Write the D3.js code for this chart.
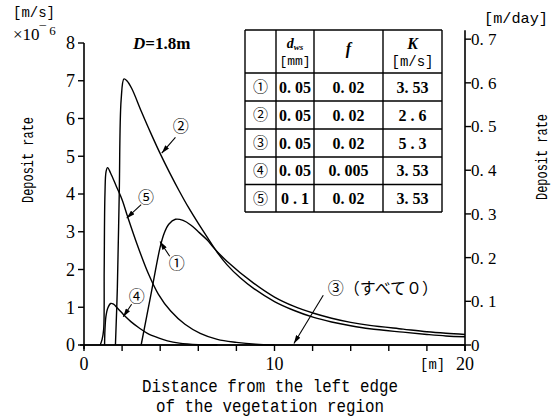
<!DOCTYPE html>
<meta charset="utf-8">
<head>
  <script src="https://d3js.org/d3.v7.min.js"></script>
</head>
<style>
body { margin: 0; background: #fff; }
.mono { font-family: "Liberation Mono", monospace; }
.serif { font-family: "Liberation Serif", serif; }
.jp { font-family: "Noto Sans CJK JP", sans-serif; }
.curve { fill: none; stroke: #000; stroke-width: 1.4; }
.axis-line { stroke: #000; stroke-width: 1.6; fill: none; }
.tbl { stroke: #000; stroke-width: 1.4; fill: none; }
</style>
<body>
<svg width="551" height="417" id="container"></svg>
<script>

// distance [m], deposit rate [x1e-6 m/s]
var curve1 = [[3.0,0],[3.5,1.3],[4.0,2.6],[4.2,2.95],[4.45,3.2],[4.8,3.33],[5.2,3.3],[5.6,3.18],[6.0,3.0],[6.47,2.78],[6.8,2.58],[7.5,2.22],[8.9,1.64],[10,1.27],[11,1.03],[12.06,0.84],[13,0.71],[14,0.6],[15,0.52],[16.75,0.42],[18,0.35],[19,0.31],[20,0.28]];
var curve2 = [[1.65,0],[1.75,1.5],[1.85,4],[1.95,6.5],[2.1,7.05],[2.25,7.0],[2.5,6.8],[3.0,6.2],[3.5,5.62],[4.0,5.07],[4.5,4.56],[5.0,4.08],[5.5,3.63],[6.0,3.22],[6.5,2.83],[7.0,2.45],[7.5,2.13],[8.2,1.78],[8.9,1.5],[10,1.15],[11,0.92],[12.06,0.73],[13,0.61],[14,0.51],[15,0.43],[16.75,0.34],[18,0.28],[19,0.24],[20,0.22]];
var curve3 = [[0,0],[20,0]];
var curve4 = [[1.08,0],[1.1,0.4],[1.15,0.75],[1.25,0.98],[1.4,1.1],[1.55,1.08],[1.75,0.98],[1.94,0.88],[2.2,0.74],[2.46,0.62],[2.9,0.45],[3.33,0.31],[3.9,0.19],[4.38,0.11],[5.0,0.05],[6.0,0.01],[7.0,0]];
var curve5 = [[0.85,0],[0.95,0.15],[1.03,0.4],[1.06,2],[1.1,4],[1.16,4.6],[1.24,4.7],[1.4,4.55],[1.7,4.2],[2.0,3.85],[2.29,3.4],[2.8,2.65],[3.37,1.9],[3.9,1.35],[4.55,0.9],[5.3,0.55],[6.1,0.31],[7.0,0.15],[8.0,0.07],[9.0,0.02],[10,0]];

var xTicks = [0, 10, 20];
var xMinorTicks = [0, 2, 4, 6, 8, 10, 12, 14, 16, 18, 20];
var yTicks = [0, 1, 2, 3, 4, 5, 6, 7, 8];
var y2Ticks = [0, 0.1, 0.2, 0.3, 0.4, 0.5, 0.6, 0.7];

// table
var caseLabels = ['①', '②', '③', '④', '⑤'];
var dwsValues = ['0. 05', '0. 05', '0. 05', '0. 05', '0 . 1'];
var fValues = ['0. 02', '0. 02', '0. 02', '0. 005', '0. 02'];
var kValues = ['3. 53', '2 . 6', '5 . 3', '3. 53', '3. 53'];

// annotations: label position, arrow start, arrow end (data units)
var notes = [
  {text: '②', at: [5.08, 5.78], from: [4.8, 5.5], to: [4.08, 5.08]},
  {text: '⑤', at: [3.25, 3.92], from: [3.0, 3.72], to: [2.24, 3.36]},
  {text: '①', at: [4.87, 2.16], from: [4.5, 2.35], to: [3.99, 2.74]},
  {text: '④', at: [2.77, 1.28], from: [2.5, 1.08], to: [2.06, 0.75]},
  {text: '③（すべて０）', at: [12.8, 1.5], from: [12.56, 1.32], to: [11.02, 0.04]}
];

var svg = d3.select('#container');

var xScale = d3.scaleLinear().domain([0, 20]).range([84, 465]),
    yScale = d3.scaleLinear().domain([0, 8]).range([345, 43]),
    // 1e-6 m/s = 0.0864 m/day
    y2Scale = d3.scaleLinear().domain([0, 8 * 0.0864]).range([345, 43]);

svg.append('defs').append('marker')
   .attr('id', 'arrow')
   .attr('viewBox', '0 0 10 6')
   .attr('refX', 10).attr('refY', 3)
   .attr('markerWidth', 9).attr('markerHeight', 5)
   .attr('markerUnits', 'userSpaceOnUse')
   .attr('orient', 'auto')
   .append('path').attr('d', 'M0,0 L10,3 L0,6 Z').attr('fill', '#000');

// axes
var gx = svg.append('g');
gx.append('line').attr('class', 'axis-line')
  .attr('x1', xScale(0) - 4).attr('x2', xScale(20))
  .attr('y1', yScale(0)).attr('y2', yScale(0));
gx.selectAll('.xminor').data(xMinorTicks).enter().append('line')
  .attr('stroke', '#000').attr('stroke-width', 1.4)
  .attr('x1', function(d) { return xScale(d); })
  .attr('x2', function(d) { return xScale(d); })
  .attr('y1', yScale(0)).attr('y2', yScale(0) + 6);
gx.selectAll('.xlab').data(xTicks).enter().append('text')
  .attr('class', 'serif')
  .attr('x', function(d) { return xScale(d); })
  .attr('y', yScale(0) + 25)
  .attr('text-anchor', 'middle')
  .attr('font-size', 18)
  .text(function(d) { return d; });
svg.append('text').attr('class', 'mono')
   .attr('x', xScale(18.3)).attr('y', yScale(0) + 24)
   .attr('text-anchor', 'middle').attr('font-size', 15)
   .attr('textLength', 25).attr('lengthAdjust', 'spacingAndGlyphs')
   .text('[m]');

var gy = svg.append('g');
gy.append('line').attr('class', 'axis-line')
  .attr('x1', xScale(0)).attr('x2', xScale(0))
  .attr('y1', yScale(8)).attr('y2', yScale(0) + 4);
gy.selectAll('.ytick').data(yTicks).enter().append('line')
  .attr('stroke', '#000').attr('stroke-width', 1.4)
  .attr('x1', xScale(0) - 6).attr('x2', xScale(0))
  .attr('y1', function(d) { return yScale(d); })
  .attr('y2', function(d) { return yScale(d); });
gy.selectAll('.ylab').data(yTicks).enter().append('text')
  .attr('class', 'serif')
  .attr('x', xScale(0) - 9)
  .attr('y', function(d) { return yScale(d); })
  .attr('dy', '0.35em')
  .attr('text-anchor', 'end')
  .attr('font-size', 18)
  .text(function(d) { return d; });

var gy2 = svg.append('g');
gy2.append('line').attr('class', 'axis-line')
   .attr('x1', xScale(20)).attr('x2', xScale(20))
   .attr('y1', y2Scale(0.7) - 9).attr('y2', yScale(0) + 6);
gy2.selectAll('.y2tick').data(y2Ticks).enter().append('line')
   .attr('stroke', '#000').attr('stroke-width', 1.4)
   .attr('x1', xScale(20)).attr('x2', xScale(20) + 6)
   .attr('y1', function(d) { return y2Scale(d); })
   .attr('y2', function(d) { return y2Scale(d); });
gy2.selectAll('.y2lab').data(y2Ticks).enter().append('text')
   .attr('class', 'serif')
   .attr('x', xScale(20) + 6)
   .attr('y', function(d) { return y2Scale(d); })
   .attr('dy', '0.35em')
   .attr('font-size', 17)
   .text(function(d) { return d == 0 ? '0' : '0. ' + Math.round(d * 10); });

// axis titles and units
svg.append('text').attr('class', 'mono')
   .attr('transform', 'translate(33,160) rotate(-90)')
   .attr('text-anchor', 'middle').attr('font-size', 16)
   .attr('textLength', 86).attr('lengthAdjust', 'spacingAndGlyphs')
   .text('Deposit rate');
svg.append('text').attr('class', 'mono')
   .attr('transform', 'translate(547,157) rotate(-90)')
   .attr('text-anchor', 'middle').attr('font-size', 16)
   .attr('textLength', 86).attr('lengthAdjust', 'spacingAndGlyphs')
   .text('Deposit rate');
svg.append('text').attr('class', 'mono')
   .attr('x', 13).attr('y', 17).attr('font-size', 15)
   .attr('textLength', 42).attr('lengthAdjust', 'spacingAndGlyphs')
   .text('[m/s]');
var sci = svg.append('text').attr('class', 'serif')
   .attr('x', 13).attr('y', 40).attr('font-size', 17);
sci.append('tspan').text('×10');
sci.append('tspan').attr('dy', -5).attr('font-size', 13).text('¯ 6');
svg.append('text').attr('class', 'mono')
   .attr('x', 548).attr('y', 23).attr('text-anchor', 'end').attr('font-size', 15)
   .attr('textLength', 64).attr('lengthAdjust', 'spacingAndGlyphs')
   .text('[m/day]');
var dLab = svg.append('text').attr('class', 'serif')
   .attr('x', 133).attr('y', 49).attr('font-size', 17).attr('font-weight', 'bold');
dLab.append('tspan').attr('font-style', 'italic').text('D');
dLab.append('tspan').text('=1.8m');

svg.append('text').attr('class', 'mono')
   .attr('x', 270).attr('y', 392).attr('text-anchor', 'middle').attr('font-size', 18)
   .attr('textLength', 256).attr('lengthAdjust', 'spacingAndGlyphs')
   .text('Distance from the left edge');
svg.append('text').attr('class', 'mono')
   .attr('x', 270).attr('y', 412).attr('text-anchor', 'middle').attr('font-size', 18)
   .attr('textLength', 228).attr('lengthAdjust', 'spacingAndGlyphs')
   .text('of the vegetation region');

// curves
var line = d3.line()
  .x(function(d) { return xScale(d[0]); })
  .y(function(d) { return yScale(d[1]); })
  .curve(d3.curveCatmullRom.alpha(0.5));

[curve1, curve2, curve3, curve4, curve5].forEach(function(c) {
  svg.append('path').attr('class', 'curve').attr('d', line(c));
});

// annotations
var gn = svg.append('g');
notes.forEach(function(n) {
  gn.append('line')
    .attr('stroke', '#000').attr('stroke-width', 1.1)
    .attr('x1', xScale(n.from[0])).attr('y1', yScale(n.from[1]))
    .attr('x2', xScale(n.to[0])).attr('y2', yScale(n.to[1]))
    .attr('marker-end', 'url(#arrow)');
  gn.append('text').attr('class', 'jp')
    .attr('x', xScale(n.at[0])).attr('y', yScale(n.at[1]))
    .attr('dy', '0.35em')
    .attr('text-anchor', n.text.length > 1 ? 'start' : 'middle')
    .attr('font-size', 16)
    .text(n.text);
});

// parameter table
var colX = [245, 276, 314, 383, 442],
    rowY = [30, 73, 101, 129, 157, 184.5, 212];
var gt = svg.append('g');
gt.append('rect').attr('fill', '#fff')
  .attr('x', colX[0]).attr('y', rowY[0])
  .attr('width', colX[4] - colX[0]).attr('height', rowY[6] - rowY[0]);
colX.forEach(function(x) {
  gt.append('line').attr('class', 'tbl')
    .attr('x1', x).attr('x2', x).attr('y1', rowY[0]).attr('y2', rowY[6]);
});
rowY.forEach(function(y) {
  gt.append('line').attr('class', 'tbl')
    .attr('x1', colX[0]).attr('x2', colX[4]).attr('y1', y).attr('y2', y);
});
function colMid(i) { return (colX[i] + colX[i + 1]) / 2; }

var hd = gt.append('text').attr('class', 'serif')
  .attr('x', colMid(1)).attr('y', 48).attr('text-anchor', 'middle')
  .attr('font-size', 14).attr('font-weight', 'bold');
hd.append('tspan').attr('font-style', 'italic').text('d');
hd.append('tspan').attr('font-style', 'italic').attr('font-size', 9).attr('dy', 2).text('ws');
gt.append('text').attr('class', 'mono')
  .attr('x', colMid(1)).attr('y', 65).attr('text-anchor', 'middle').attr('font-size', 13)
  .text('[mm]');
gt.append('text').attr('class', 'serif')
  .attr('x', colMid(2)).attr('y', 54).attr('text-anchor', 'middle')
  .attr('font-size', 16).attr('font-weight', 'bold').attr('font-style', 'italic')
  .text('f');
gt.append('text').attr('class', 'serif')
  .attr('x', colMid(3)).attr('y', 49).attr('text-anchor', 'middle')
  .attr('font-size', 16).attr('font-weight', 'bold').attr('font-style', 'italic')
  .text('K');
gt.append('text').attr('class', 'mono')
  .attr('x', colMid(3)).attr('y', 66).attr('text-anchor', 'middle').attr('font-size', 14)
  .text('[m/s]');

var cols = [caseLabels, dwsValues, fValues, kValues];
cols.forEach(function(vals, ci) {
  vals.forEach(function(v, ri) {
    gt.append('text')
      .attr('class', ci == 0 ? 'jp' : 'serif')
      .attr('x', colMid(ci))
      .attr('y', (rowY[ri + 1] + rowY[ri + 2]) / 2)
      .attr('dy', '0.35em')
      .attr('text-anchor', 'middle')
      .attr('font-size', ci == 0 ? 15 : 16)
      .attr('font-weight', ci == 0 ? 'normal' : 'bold')
      .text(v);
  });
});

</script>
</body>
